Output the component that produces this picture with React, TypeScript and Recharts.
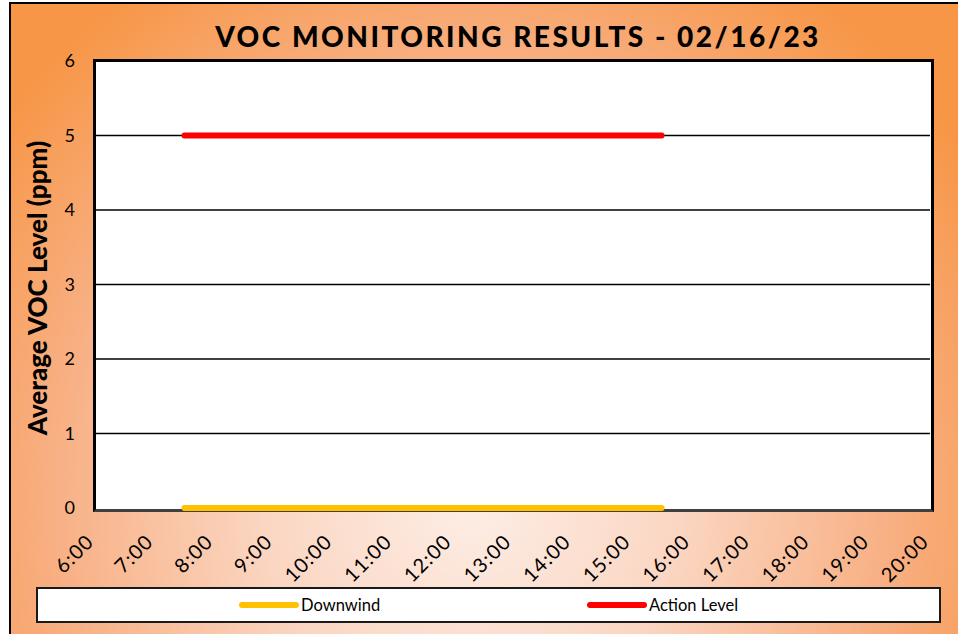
import { LineChart, Line, XAxis, YAxis, CartesianGrid } from 'recharts';

const sampleHours = [7.5, 8.5, 9.5, 10.5, 11.5, 12.5, 13.5, 14.5, 15.5];
const downwind = [0, 0, 0, 0, 0, 0, 0, 0, 0];
const actionLevel = [5, 5, 5, 5, 5, 5, 5, 5, 5];
const hourTicks = [6, 7, 8, 9, 10, 11, 12, 13, 14, 15, 16, 17, 18, 19, 20];
const ppmTicks = [0, 1, 2, 3, 4, 5, 6];
const gridValues = [1, 2, 3, 4, 5];

const series = [
  { key: 'downwind', name: 'Downwind', color: '#ffc000' },
  { key: 'action', name: 'Action Level', color: '#ff0000' },
];

const data = sampleHours.map((t, i) => ({ t, downwind: downwind[i], action: actionLevel[i] }));

const FONT = 'Lato, "Open Sans", sans-serif';

const TimeTick = (props: any) => {
  const { x, y, payload } = props;
  const ex = x;
  const ey = y + 33;
  return (
    <text
      x={ex}
      y={ey}
      transform={`rotate(-45, ${ex}, ${ey})`}
      textAnchor="end"
      fontSize={20}
      letterSpacing={1.2}
      fontFamily={FONT}
      fill="#000"
    >
      {`${payload.value}:00`}
    </text>
  );
};

const App = () => {
  return (
    <div style={{ position: 'absolute', left: 0, top: 0, width: 958, height: 634, overflow: 'hidden' }}>
      <div
        style={{
          position: 'absolute',
          left: 9,
          top: 2,
          width: 960,
          height: 650,
          border: '2px solid #000',
          background: 'radial-gradient(ellipse 62% 95% at 48% 76%, #fdeee6 0%, #fbd6c2 35%, #f8b084 70%, #f79646 100%)',
        }}
      />
      <div
        style={{
          position: 'absolute',
          left: 0,
          width: 1036,
          top: 19,
          textAlign: 'center',
          fontFamily: FONT,
          fontWeight: 900,
          fontSize: 28,
          letterSpacing: 2.5,
          color: '#000',
        }}
      >
        VOC MONITORING RESULTS - 02/16/23
      </div>
      <div
        style={{
          position: 'absolute',
          left: 37 - 170,
          top: 288 - 15,
          width: 340,
          height: 30,
          lineHeight: '30px',
          textAlign: 'center',
          transform: 'rotate(-90deg)',
          fontFamily: FONT,
          fontWeight: 900,
          fontSize: 26,
          color: '#000',
        }}
      >
        Average VOC Level (ppm)
      </div>
      {/* plot area frame sits under the transparent svg so the series draw on top */}
      <div
        style={{
          position: 'absolute',
          left: 93,
          top: 59,
          width: 835,
          height: 447,
          background: '#fff',
          borderTop: '3px solid #000',
          borderLeft: '3px solid #000',
          borderRight: '3px solid #000',
          borderBottom: '3px solid #404040',
        }}
      />
      <LineChart
        width={958}
        height={634}
        data={data}
        margin={{ top: 61, right: 28, bottom: 66, left: 35 }}
        style={{ position: 'absolute', left: 0, top: 0 }}
      >
        <CartesianGrid vertical={false} horizontalValues={gridValues} stroke="#000" strokeWidth={1.5} />
        <XAxis
          dataKey="t"
          type="number"
          domain={[6, 20]}
          ticks={hourTicks}
          height={60}
          axisLine={false}
          tickLine={false}
          tickSize={0}
          tick={<TimeTick />}
          interval={0}
        />
        <YAxis
          type="number"
          domain={[0, 6]}
          ticks={ppmTicks}
          width={60}
          axisLine={false}
          tickLine={false}
          tickSize={0}
          tickMargin={20}
          tick={{ fontSize: 18, fontFamily: FONT, fill: '#000' }}
          interval={0}
        />
        {series.map((s) => (
          <Line
            key={s.key}
            dataKey={s.key}
            name={s.name}
            stroke={s.color}
            strokeWidth={6}
            strokeLinecap="round"
            dot={false}
            activeDot={false}
            isAnimationActive={false}
            type="linear"
          />
        ))}
      </LineChart>
      <div
        style={{
          position: 'absolute',
          left: 36,
          top: 587,
          width: 901,
          height: 32,
          border: '2px solid #1a1a1a',
          background: '#fff',
          fontFamily: FONT,
          fontSize: 16.5,
          color: '#000',
        }}
      >
        {series.map((s, i) => (
          <div
            key={s.key}
            style={{ position: 'absolute', left: i === 0 ? 201 : 549, top: 0, height: 32, display: 'flex', alignItems: 'center' }}
          >
            <svg width={60} height={10} style={{ marginRight: 2 }}>
              <line x1={3} y1={5} x2={57} y2={5} stroke={s.color} strokeWidth={6} strokeLinecap="round" />
            </svg>
            <span>{s.name}</span>
          </div>
        ))}
      </div>
    </div>
  );
};

export default App;
